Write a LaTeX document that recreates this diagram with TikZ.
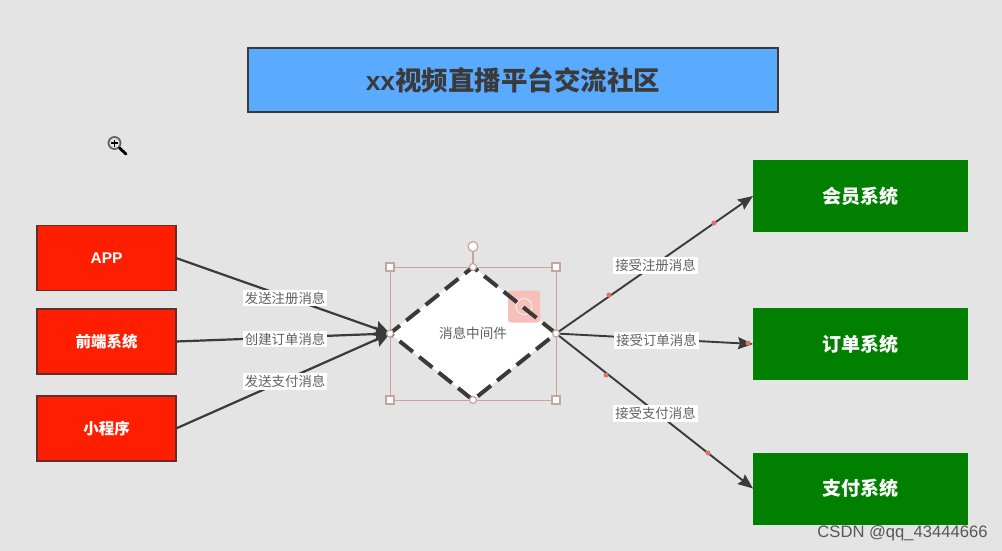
\documentclass[tikz,border=0pt]{standalone}
\usepackage{fontspec}
\setmainfont{Noto Sans CJK SC}
\newfontfamily\wmfont{Liberation Sans}
\usetikzlibrary{arrows.meta,shapes.geometric}
\definecolor{bgc}{HTML}{E4E4E4}
\definecolor{inkc}{HTML}{3A3A3A}
\definecolor{titlec}{HTML}{5AABFF}
\definecolor{redc}{HTML}{FF1F00}
\definecolor{greenc}{HTML}{007F00}
\definecolor{selc}{HTML}{C9A3A0}
\definecolor{dotc}{HTML}{E2706A}
\definecolor{pinkc}{HTML}{F6BFBA}
\tikzset{
  box/.style={draw=#1,rectangle,inner sep=0pt,outer sep=0pt,text=white,font=\bfseries},
  redbox/.style={box=inkc!80!red,fill=redc,line width=1.5pt,minimum width=139pt,minimum height=65pt,font=\fontsize{15.5}{18}\selectfont\bfseries},
  greenbox/.style={rectangle,inner sep=0pt,outer sep=0pt,fill=greenc,text=white,minimum width=215pt,minimum height=72pt,font=\fontsize{19}{22}\selectfont\bfseries},
  inconn/.style={draw=inkc,line width=2.2pt,-{Stealth[length=15pt,width=15pt,inset=2pt]}},
  outconn/.style={draw=inkc,line width=1.9pt,-{Stealth[length=15pt,width=12pt,inset=2pt]}},
  edgelabel/.style={fill=white,text=inkc!80,inner xsep=2pt,inner ysep=2pt,yshift=-1.5pt,font=\fontsize{13.4}{15}\selectfont},
  handle/.style={draw=selc,fill=white,rectangle,line width=1.2pt,minimum size=8pt,inner sep=0pt,outer sep=0pt},
  roundhandle/.style={draw=selc,fill=white,circle,line width=1.2pt,minimum size=7pt,inner sep=0pt,outer sep=0pt},
  edgedot/.style={fill=dotc,circle,minimum size=5pt,inner sep=0pt,outer sep=0pt},
  hubshape/.style={diamond,aspect=1.25,minimum width=166pt,minimum height=133pt,inner sep=0pt,outer sep=0pt},
}
\begin{document}
\begin{tikzpicture}[x=1pt,y=-1pt]
\useasboundingbox (0,0) rectangle (1002,551);
\fill[bgc] (0,0) rectangle (1002,551);

% title
\node[box=inkc,fill=titlec,line width=2pt,minimum width=530pt,minimum height=64pt,text=inkc,font=\fontsize{26.5}{30}\selectfont\bfseries] (title) at (513,80) {\raisebox{-0.8pt}{{\wmfont xx}视频直播平台交流社区}};

% magnifier icon
\draw[inkc!80,line width=1.8pt] (114.5,143) circle (6pt);
\draw[black,line width=2.8pt,line cap=round] (119.5,148) -- (126,154);
\draw[black,line width=1.6pt] (111,143) -- (118,143) (114.5,139.5) -- (114.5,146.5);

% sources
\node[redbox] (app) at (106.5,258) {{\wmfont APP}};
\node[redbox] (front) at (106.5,341.5) {前端系统};
\node[redbox] (mini) at (106.5,428.5) {小程序};

% targets
\node[greenbox] (member) at (860.5,196) {会员系统};
\node[greenbox] (order) at (860.5,344) {订单系统};
\node[greenbox] (pay) at (860.5,488.5) {支付系统};

% hub geometry
\coordinate (hubc) at (473,333.5);

% diamond fill, pink touch marker, then dashed outline on top
\node[hubshape,fill=white] (hubfill) at (hubc) {};
\node[fill=pinkc,rounded corners=3pt,minimum width=32pt,minimum height=32pt,inner sep=0pt] (touch) at (524,306.5) {};
\node[circle,draw=white,opacity=.7,line width=1pt,minimum size=16pt,inner sep=0pt] (touchring) at (touch) {};
\node[hubshape,draw=inkc,line width=4pt,dash pattern=on 17pt off 8pt,text=inkc!80,font=\fontsize{13.6}{16}\selectfont] (hub) at (hubc) {消息中间件};

% incoming connectors
\draw[inconn] (app.east) -- node[edgelabel,pos=.51] (l1) {发送注册消息} (hub.west);
\draw[inconn] (front.east) -- node[edgelabel,pos=.51] (l2) {创建订单消息} (hub.west);
\draw[inconn] (mini.east) -- node[edgelabel,pos=.51] (l3) {发送支付消息} (hub.west);

% outgoing connectors
\draw[outconn] (hub.east) -- node[edgelabel,pos=.505] (r1) {接受注册消息} (member.west);
\draw[outconn] (hub.east) -- node[edgelabel,pos=.51] (r2) {接受订单消息} (order.west);
\draw[outconn] (hub.east) -- node[edgelabel,pos=.505] (r3) {接受支付消息} (pay.west);

% waypoint dots
\node[edgedot] (d1) at (609,295) {};
\node[edgedot] (d2) at (714,223) {};
\node[edgedot] (d3) at (748,343) {};
\node[edgedot] (d4) at (606,375) {};
\node[edgedot] (d5) at (708,453) {};

% selection frame
\node[rectangle,draw=selc,line width=1pt,minimum width=166pt,minimum height=133pt,inner sep=0pt,outer sep=0pt] (sel) at (hubc) {};
\node[roundhandle,minimum size=10pt] (rot) at (473,246.5) {};
\draw[selc,line width=1.2pt] (rot) -- (sel.north);
\node[handle] (h1) at (sel.north west) {};
\node[handle] (h2) at (sel.north east) {};
\node[handle] (h3) at (sel.south west) {};
\node[handle] (h4) at (sel.south east) {};
\node[roundhandle] (h5) at (sel.north) {};
\node[roundhandle] (h6) at (sel.south) {};
\node[roundhandle] (h7) at (sel.west) {};
\node[roundhandle] (h8) at (sel.east) {};

% watermark
\node[text=inkc!85,font=\wmfont\fontsize{16.6}{18}\selectfont,inner sep=0pt] (wm) at (902.5,533.5) {CSDN @qq\_43444666};
\end{tikzpicture}
\end{document}
